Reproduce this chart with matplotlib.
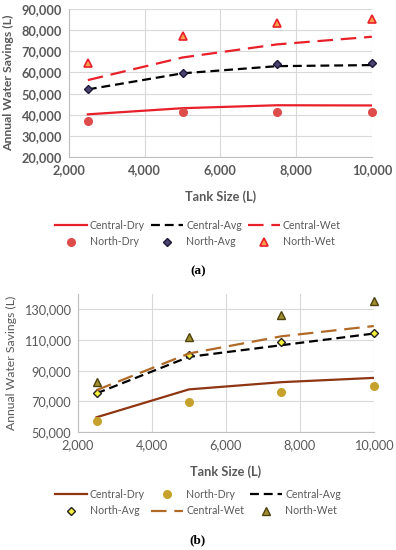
import matplotlib
matplotlib.use("Agg")
import matplotlib.pyplot as plt
from matplotlib.ticker import FuncFormatter

plt.rcParams["font.family"] = ["Lato", "DejaVu Sans"]

tank = [2500, 5000, 7500, 10000]

# panel (a)
a_central_dry = [40200, 43100, 44500, 44400]
a_central_avg = [52000, 59600, 63000, 63500]
a_central_wet = [56400, 67100, 73300, 76900]
a_north_dry = [37200, 41300, 41300, 41300]
a_north_avg = [52000, 59600, 63800, 64500]
a_north_wet = [64600, 77200, 83400, 85300]

# panel (b)
b_central_dry = [59600, 77800, 82500, 85300]
b_central_avg = [75200, 99000, 106600, 114200]
b_central_wet = [77300, 101200, 112400, 119100]
b_north_dry = [57400, 69300, 75800, 79700]
b_north_avg = [75200, 100100, 108700, 114400]
b_north_wet = [82300, 112000, 126500, 135200]

grey = "#595959"
fmt = FuncFormatter(lambda v, p: "{:,.0f}".format(v))


def style_axes(ax, weight):
    ax.set_xlim(2000, 10000)
    ax.set_xticks([2000, 4000, 6000, 8000, 10000])
    ax.xaxis.set_major_formatter(fmt)
    ax.yaxis.set_major_formatter(fmt)
    ax.grid(True, color="#D9D9D9", lw=0.8)
    ax.set_axisbelow(True)
    for s in ["top", "right"]:
        ax.spines[s].set_visible(False)
    for s in ["left", "bottom"]:
        ax.spines[s].set_color("#BFBFBF")
        ax.spines[s].set_linewidth(0.8)
    ax.tick_params(length=0, labelsize=9.2, labelcolor=grey, pad=5)
    for t in ax.get_xticklabels() + ax.get_yticklabels():
        t.set_fontweight(weight)
    ax.set_xlabel("Tank Size (L)", color=grey, fontsize=9.2, fontweight="bold", labelpad=10)
    ax.set_ylabel("Annual Water Savings (L)", color=grey, fontsize=8.8, fontweight=weight, labelpad=5)


fig = plt.figure(figsize=(3.96, 5.5), dpi=100)

# ---- (a)
ax1 = fig.add_axes([0.174, 0.7145, 0.765, 0.269])
red = "#E8202A"
h1, = ax1.plot(tank, a_central_dry, color=red, lw=1.6, label="Central-Dry")
h2, = ax1.plot(tank, a_central_avg, color="black", lw=1.6, dashes=(4, 2.2), label="Central-Avg")
h3, = ax1.plot(tank, a_central_wet, color=red, lw=1.6, dashes=(7, 3.5), label="Central-Wet")
h4, = ax1.plot(tank, a_north_dry, "o", color="#DE4B4B", ms=5.5, label="North-Dry", clip_on=False)
h5, = ax1.plot(tank, a_north_avg, "D", mfc="#4A4470", mec="#1C1838", mew=1, ms=4, label="North-Avg", clip_on=False)
h6, = ax1.plot(tank, a_north_wet, "^", mfc="#F7A24F", mec=red, mew=1.2, ms=6, label="North-Wet", clip_on=False)
ax1.set_ylim(20000, 90000)
ax1.set_yticks(range(20000, 90001, 10000))
style_axes(ax1, "bold")

fig.legend([h1, h4, h2, h5, h3, h6],
           ["Central-Dry", "North-Dry", "Central-Avg", "North-Avg", "Central-Wet", "North-Wet"],
           ncol=3, loc="center", bbox_to_anchor=(0.5, 1 - 233.5 / 550), frameon=False,
           fontsize=7.6, labelcolor=grey, handlelength=3.0, columnspacing=0.6,
           handletextpad=0.3, labelspacing=0.55)
fig.text(0.5, 1 - 271 / 550, "(a)", ha="center", va="center", fontsize=9.5,
         fontweight="bold", family="Liberation Serif")

# ---- (b)
ax2 = fig.add_axes([0.197, 0.2145, 0.747, 0.251])
brown = "#8E3512"
wet = "#B06A28"
g1, = ax2.plot(tank, b_central_dry, color=brown, lw=1.6, label="Central-Dry")
g2, = ax2.plot(tank, b_north_dry, "o", color="#C6A22C", ms=5.5, label="North-Dry", clip_on=False)
g3, = ax2.plot(tank, b_central_avg, color="black", lw=1.6, dashes=(4, 2.2), label="Central-Avg")
g4, = ax2.plot(tank, b_north_avg, "D", mfc="#F4EE3C", mec="#222222", mew=1, ms=4, label="North-Avg", clip_on=False)
g5, = ax2.plot(tank, b_central_wet, color=wet, lw=1.6, dashes=(7, 3.5), label="Central-Wet")
g6, = ax2.plot(tank, b_north_wet, "^", mfc="#A08E2C", mec="#4E4210", mew=1, ms=6, label="North-Wet", clip_on=False)
ax2.set_ylim(50000, 140000)
ax2.set_yticks(range(50000, 130001, 20000))
style_axes(ax2, "normal")

fig.legend([g1, g4, g2, g5, g3, g6],
           ["Central-Dry", "North-Avg", "North-Dry", "Central-Wet", "Central-Avg", "North-Wet"],
           ncol=3, loc="center", bbox_to_anchor=(0.5, 1 - 502.5 / 550), frameon=False,
           fontsize=7.6, labelcolor=grey, handlelength=3.0, columnspacing=0.6,
           handletextpad=0.3, labelspacing=0.55)
fig.text(0.5, 1 - 540 / 550, "(b)", ha="center", va="center", fontsize=9.5,
         fontweight="bold", family="Liberation Serif")

fig.savefig("out.png", dpi=100)
